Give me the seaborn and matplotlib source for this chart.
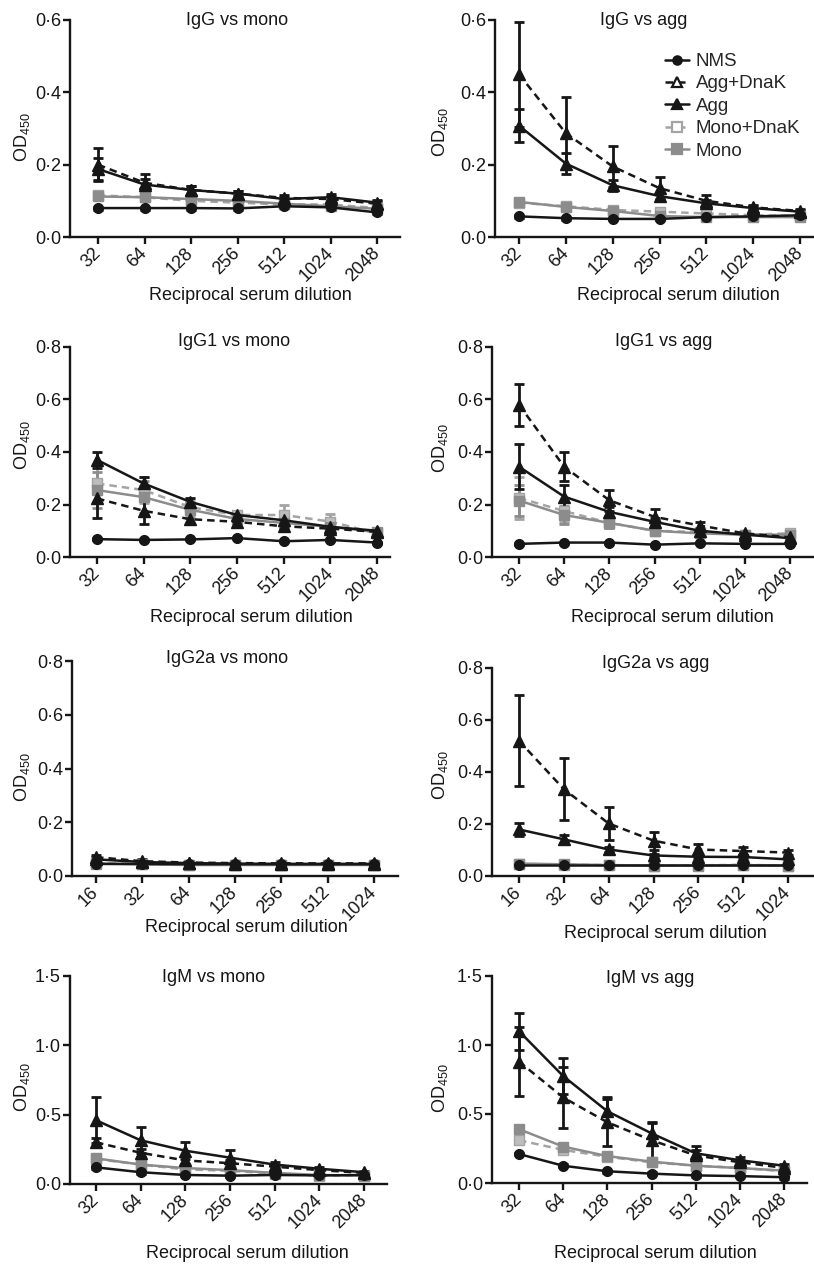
import numpy as np
import pandas as pd
import matplotlib.pyplot as plt
import seaborn as sns
from matplotlib.lines import Line2D
from matplotlib.ticker import FixedLocator, NullLocator
from matplotlib.transforms import ScaledTranslation

sns.set_theme(style="ticks")
plt.rcParams['font.family'] = ['Liberation Sans', 'DejaVu Sans']
plt.rcParams['mathtext.fontset'] = 'custom'
plt.rcParams['mathtext.rm'] = 'Liberation Sans'
plt.rcParams['mathtext.it'] = 'Liberation Sans:italic'
plt.rcParams['mathtext.bf'] = 'Liberation Sans:bold'

W, H = 814, 1266

# dilution series
dil_a = [32, 64, 128, 256, 512, 1024, 2048]
dil_b = [16, 32, 64, 128, 256, 512, 1024]

# drawing order (greys underneath)
groups = ["Mono+DnaK", "Mono", "Agg+DnaK", "Agg", "NMS"]
legend_order = ["NMS", "Agg+DnaK", "Agg", "Mono+DnaK", "Mono"]

# ---- IgG vs mono
igg_mono = {
    "NMS":       [0.080, 0.080, 0.080, 0.079, 0.085, 0.082, 0.068],
    "Agg+DnaK":  [0.200, 0.150, 0.130, 0.120, 0.108, 0.105, 0.092],
    "Agg":       [0.188, 0.145, 0.130, 0.120, 0.105, 0.110, 0.095],
    "Mono+DnaK": [0.115, 0.110, 0.100, 0.095, 0.090, 0.090, 0.080],
    "Mono":      [0.112, 0.110, 0.105, 0.100, 0.092, 0.085, 0.078],
}
igg_mono_err = {
    "NMS":       [0.004, 0.004, 0.004, 0.004, 0.004, 0.004, 0.004],
    "Agg+DnaK":  [0.045, 0.025, 0.010, 0.008, 0.008, 0.008, 0.008],
    "Agg":       [0.030, 0.015, 0.010, 0.006, 0.006, 0.008, 0.006],
    "Mono+DnaK": [0.008, 0.006, 0.005, 0.005, 0.005, 0.005, 0.005],
    "Mono":      [0.008, 0.006, 0.005, 0.005, 0.005, 0.005, 0.005],
}

# ---- IgG vs agg
igg_agg = {
    "NMS":       [0.057, 0.052, 0.050, 0.050, 0.055, 0.057, 0.060],
    "Agg+DnaK":  [0.450, 0.287, 0.195, 0.135, 0.100, 0.082, 0.072],
    "Agg":       [0.308, 0.203, 0.143, 0.113, 0.093, 0.080, 0.070],
    "Mono+DnaK": [0.095, 0.085, 0.075, 0.070, 0.065, 0.060, 0.058],
    "Mono":      [0.097, 0.083, 0.072, 0.058, 0.055, 0.055, 0.055],
}
igg_agg_err = {
    "NMS":       [0.004, 0.004, 0.004, 0.004, 0.004, 0.004, 0.004],
    "Agg+DnaK":  [0.145, 0.100, 0.057, 0.030, 0.015, 0.006, 0.005],
    "Agg":       [0.045, 0.028, 0.015, 0.010, 0.008, 0.005, 0.004],
    "Mono+DnaK": [0.006, 0.005, 0.005, 0.005, 0.005, 0.005, 0.005],
    "Mono":      [0.006, 0.005, 0.005, 0.005, 0.005, 0.005, 0.005],
}

# ---- IgG1 vs mono
igg1_mono = {
    "NMS":       [0.068, 0.065, 0.067, 0.072, 0.060, 0.065, 0.055],
    "Agg+DnaK":  [0.223, 0.176, 0.144, 0.134, 0.117, 0.108, 0.096],
    "Agg":       [0.370, 0.280, 0.210, 0.160, 0.140, 0.115, 0.100],
    "Mono+DnaK": [0.280, 0.255, 0.190, 0.160, 0.160, 0.135, 0.090],
    "Mono":      [0.255, 0.228, 0.180, 0.145, 0.130, 0.115, 0.095],
}
igg1_mono_err = {
    "NMS":       [0.004, 0.004, 0.004, 0.004, 0.004, 0.004, 0.004],
    "Agg+DnaK":  [0.075, 0.050, 0.020, 0.020, 0.012, 0.010, 0.008],
    "Agg":       [0.030, 0.025, 0.015, 0.010, 0.010, 0.010, 0.010],
    "Mono+DnaK": [0.070, 0.050, 0.030, 0.012, 0.040, 0.030, 0.012],
    "Mono":      [0.070, 0.060, 0.030, 0.015, 0.020, 0.015, 0.010],
}

# ---- IgG1 vs agg
igg1_agg = {
    "NMS":       [0.050, 0.055, 0.055, 0.047, 0.052, 0.050, 0.050],
    "Agg+DnaK":  [0.580, 0.344, 0.216, 0.153, 0.120, 0.090, 0.075],
    "Agg":       [0.344, 0.230, 0.172, 0.134, 0.100, 0.085, 0.072],
    "Mono+DnaK": [0.225, 0.175, 0.130, 0.100, 0.095, 0.085, 0.090],
    "Mono":      [0.215, 0.160, 0.130, 0.100, 0.090, 0.085, 0.085],
}
igg1_agg_err = {
    "NMS":       [0.004, 0.004, 0.004, 0.004, 0.004, 0.004, 0.004],
    "Agg+DnaK":  [0.080, 0.055, 0.040, 0.030, 0.012, 0.008, 0.006],
    "Agg":       [0.085, 0.045, 0.020, 0.015, 0.008, 0.006, 0.005],
    "Mono+DnaK": [0.080, 0.040, 0.020, 0.010, 0.008, 0.006, 0.006],
    "Mono":      [0.060, 0.035, 0.020, 0.010, 0.008, 0.006, 0.006],
}

# ---- IgG2a vs mono
igg2a_mono = {
    "NMS":       [0.045, 0.045, 0.044, 0.044, 0.044, 0.044, 0.044],
    "Agg+DnaK":  [0.070, 0.055, 0.050, 0.048, 0.047, 0.047, 0.047],
    "Agg":       [0.062, 0.052, 0.048, 0.046, 0.045, 0.045, 0.045],
    "Mono+DnaK": [0.048, 0.044, 0.042, 0.042, 0.042, 0.042, 0.042],
    "Mono":      [0.046, 0.043, 0.041, 0.041, 0.041, 0.041, 0.041],
}
igg2a_mono_err = {
    "NMS":       [0.004, 0.004, 0.004, 0.004, 0.004, 0.004, 0.004],
    "Agg+DnaK":  [0.010, 0.008, 0.006, 0.006, 0.006, 0.006, 0.006],
    "Agg":       [0.008, 0.006, 0.006, 0.006, 0.006, 0.006, 0.006],
    "Mono+DnaK": [0.006, 0.006, 0.006, 0.006, 0.006, 0.006, 0.006],
    "Mono":      [0.006, 0.006, 0.006, 0.006, 0.006, 0.006, 0.006],
}

# ---- IgG2a vs agg
igg2a_agg = {
    "NMS":       [0.043, 0.043, 0.043, 0.043, 0.043, 0.043, 0.043],
    "Agg+DnaK":  [0.520, 0.334, 0.202, 0.136, 0.102, 0.096, 0.090],
    "Agg":       [0.179, 0.141, 0.102, 0.079, 0.074, 0.073, 0.064],
    "Mono+DnaK": [0.046, 0.044, 0.042, 0.040, 0.041, 0.043, 0.040],
    "Mono":      [0.048, 0.045, 0.042, 0.040, 0.040, 0.042, 0.040],
}
igg2a_agg_err = {
    "NMS":       [0.004, 0.004, 0.004, 0.004, 0.004, 0.004, 0.004],
    "Agg+DnaK":  [0.175, 0.120, 0.065, 0.035, 0.020, 0.015, 0.010],
    "Agg":       [0.025, 0.015, 0.008, 0.006, 0.006, 0.006, 0.006],
    "Mono+DnaK": [0.005, 0.005, 0.005, 0.005, 0.005, 0.005, 0.005],
    "Mono":      [0.005, 0.005, 0.005, 0.005, 0.005, 0.005, 0.005],
}

# ---- IgM vs mono
igm_mono = {
    "NMS":       [0.120, 0.085, 0.065, 0.060, 0.065, 0.062, 0.065],
    "Agg+DnaK":  [0.300, 0.225, 0.170, 0.150, 0.125, 0.100, 0.080],
    "Agg":       [0.460, 0.315, 0.240, 0.190, 0.140, 0.110, 0.085],
    "Mono+DnaK": [0.180, 0.140, 0.105, 0.095, 0.075, 0.060, 0.060],
    "Mono":      [0.185, 0.140, 0.115, 0.100, 0.080, 0.065, 0.060],
}
igm_mono_err = {
    "NMS":       [0.010, 0.010, 0.010, 0.010, 0.010, 0.010, 0.010],
    "Agg+DnaK":  [0.030, 0.030, 0.030, 0.020, 0.010, 0.010, 0.010],
    "Agg":       [0.165, 0.095, 0.060, 0.055, 0.020, 0.015, 0.010],
    "Mono+DnaK": [0.030, 0.020, 0.015, 0.015, 0.010, 0.010, 0.010],
    "Mono":      [0.030, 0.020, 0.015, 0.015, 0.010, 0.010, 0.010],
}

# ---- IgM vs agg
igm_agg = {
    "NMS":       [0.210, 0.125, 0.085, 0.068, 0.055, 0.050, 0.042],
    "Agg+DnaK":  [0.880, 0.620, 0.440, 0.310, 0.200, 0.150, 0.110],
    "Agg":       [1.100, 0.775, 0.520, 0.360, 0.215, 0.165, 0.125],
    "Mono+DnaK": [0.310, 0.240, 0.190, 0.150, 0.125, 0.110, 0.085],
    "Mono":      [0.390, 0.264, 0.195, 0.155, 0.125, 0.108, 0.090],
}
igm_agg_err = {
    "NMS":       [0.010, 0.010, 0.010, 0.010, 0.010, 0.010, 0.010],
    "Agg+DnaK":  [0.250, 0.220, 0.170, 0.130, 0.040, 0.015, 0.010],
    "Agg":       [0.135, 0.130, 0.105, 0.075, 0.055, 0.025, 0.010],
    "Mono+DnaK": [0.020, 0.020, 0.015, 0.015, 0.010, 0.010, 0.010],
    "Mono":      [0.020, 0.020, 0.015, 0.015, 0.010, 0.010, 0.010],
}

BLACK = "#161616"
styles = {
    "NMS":       dict(color=BLACK, marker="o", ls="-", mfc=BLACK, ms=7),
    "Agg+DnaK":  dict(color=BLACK, marker="^", ls=(0, (3, 2)), mfc=BLACK, ms=8),
    "Agg":       dict(color=BLACK, marker="^", ls="-", mfc=BLACK, ms=8),
    "Mono+DnaK": dict(color="#a4a4a4", marker="s", ls=(0, (3, 2)), mfc="#bdbdbd", ms=7.5),
    "Mono":      dict(color="#8c8c8c", marker="s", ls="-", mfc="#8c8c8c", ms=7.5),
}

# layout in pixel coordinates: axes box (left, top, right, bottom), x of first/last tick
panels = [
    dict(title="IgG vs mono", x=dil_a, y=igg_mono, e=igg_mono_err, ymax=0.6, step=0.2,
         box=(70, 20, 400, 237), ticks=(98, 377), tpos=(237, 25), ypos=(22, 137), xpos=(250, 296)),
    dict(title="IgG vs agg", x=dil_a, y=igg_agg, e=igg_agg_err, ymax=0.6, step=0.2,
         box=(495, 20, 814, 237), ticks=(519, 800), tpos=(644, 25), ypos=(440, 132), xpos=(678, 296)),
    dict(title="IgG1 vs mono", x=dil_a, y=igg1_mono, e=igg1_mono_err, ymax=0.8, step=0.2,
         box=(70, 347, 390, 557), ticks=(97, 377), tpos=(234, 346), ypos=(22, 445), xpos=(251, 617)),
    dict(title="IgG1 vs agg", x=dil_a, y=igg1_agg, e=igg1_agg_err, ymax=0.8, step=0.2,
         box=(492, 347, 814, 557), ticks=(519, 790), tpos=(664, 346), ypos=(440, 448), xpos=(672, 617)),
    dict(title="IgG2a vs mono", x=dil_b, y=igg2a_mono, e=igg2a_mono_err, ymax=0.8, step=0.2,
         box=(72, 661, 398, 876), ticks=(96, 374), tpos=(227, 663), ypos=(22, 777), xpos=(246, 928)),
    dict(title="IgG2a vs agg", x=dil_b, y=igg2a_agg, e=igg2a_agg_err, ymax=0.8, step=0.2,
         box=(492, 668, 814, 876), ticks=(519, 788), tpos=(656, 668), ypos=(440, 775), xpos=(665, 933)),
    dict(title="IgM vs mono", x=dil_a, y=igm_mono, e=igm_mono_err, ymax=1.5, step=0.5,
         box=(70, 976, 387, 1184), ticks=(96, 364), tpos=(214, 982), ypos=(22, 1087), xpos=(247, 1253)),
    dict(title="IgM vs agg", x=dil_a, y=igm_agg, e=igm_agg_err, ymax=1.5, step=0.5,
         box=(492, 976, 807, 1183), ticks=(519, 784), tpos=(650, 983), ypos=(440, 1088), xpos=(655, 1253)),
]

FS = 13
fig = plt.figure(figsize=(W / 100, H / 100), dpi=100)
fig.patch.set_facecolor("white")


def fx(px):
    return px / W


def fy(py):
    return 1 - py / H


for p in panels:
    l, t, r, b = p["box"]
    ax = fig.add_axes([fx(l), fy(b), (r - l) / W, (b - t) / H])
    ax.set_facecolor("white")
    ax.set_xscale("log", base=2)

    x = p["x"]
    for g in groups:
        st = styles[g]
        df = pd.DataFrame({"dilution": x, "od": p["y"][g]})
        ax.errorbar(x, p["y"][g], yerr=p["e"][g], fmt="none", ecolor=st["color"],
                    elinewidth=2.0, capsize=3.5, capthick=2.0, zorder=2)
        sns.lineplot(data=df, x="dilution", y="od", ax=ax, errorbar=None, legend=False,
                     color=st["color"], linestyle=st["ls"], linewidth=1.8,
                     marker=st["marker"], markersize=st["ms"], markerfacecolor=st["mfc"],
                     markeredgecolor=st["color"], markeredgewidth=1.0, zorder=3)

    # x limits from tick pixel positions
    t0, t6 = p["ticks"]
    sp = (t6 - t0) / 6
    lg0 = np.log2(x[0])
    ax.set_xlim(2 ** (lg0 - (t0 - l) / sp), 2 ** (lg0 + 6 + (r - t6) / sp))
    ax.set_ylim(0, p["ymax"])

    ax.xaxis.set_major_locator(FixedLocator(x))
    ax.xaxis.set_minor_locator(NullLocator())
    ax.set_xticklabels([str(v) for v in x], rotation=45, ha="right", va="center",
                       rotation_mode="anchor")
    for lab in ax.get_xticklabels():
        lab.set_transform(lab.get_transform() + ScaledTranslation(3 / 100, 0, fig.dpi_scale_trans))

    yt = np.arange(0, p["ymax"] + 1e-9, p["step"])
    ax.set_yticks(yt)
    ax.set_yticklabels([f"{v:.1f}".replace(".", "\u00b7") for v in yt])

    ax.set_xlabel("")
    ax.set_ylabel("")
    sns.despine(ax=ax)
    for s in ["left", "bottom"]:
        ax.spines[s].set_linewidth(1.7)
        ax.spines[s].set_color(BLACK)
    ax.tick_params(axis="both", direction="out", length=5, width=1.7, color=BLACK,
                   labelsize=FS, labelcolor=BLACK)
    ax.tick_params(axis="y", pad=1.5)
    ax.tick_params(axis="x", pad=5)

    fig.text(fx(p["tpos"][0]), fy(p["tpos"][1]), p["title"], ha="center", va="baseline",
             fontsize=FS, color=BLACK)
    fig.text(fx(p["ypos"][0]), fy(p["ypos"][1]), "OD$_{450}$", rotation=90, ha="center",
             va="center", fontsize=FS, color=BLACK)
    fig.text(fx(p["xpos"][0]), fy(p["xpos"][1]), "Reciprocal serum dilution", ha="center",
             va="center", fontsize=FS, color=BLACK)

    if p["title"] == "IgG vs agg":
        handles = []
        for g in legend_order:
            st = styles[g]
            mfc = "white" if g in ("Agg+DnaK", "Mono+DnaK") else st["mfc"]
            handles.append(Line2D([], [], color=st["color"], linestyle=st["ls"], linewidth=1.8,
                                  marker=st["marker"], markersize=st["ms"] - 1,
                                  markerfacecolor=mfc, markeredgecolor=st["color"],
                                  markeredgewidth=1.6))
        ax.legend(handles, legend_order, loc="upper left", bbox_to_anchor=(fx(665), fy(53)),
                  bbox_transform=fig.transFigure, frameon=False, fontsize=FS + 0.5,
                  handlelength=1.3, handletextpad=0.35, labelspacing=0.28,
                  borderpad=0, borderaxespad=0, numpoints=1)

fig.savefig("out.png", dpi=100)
